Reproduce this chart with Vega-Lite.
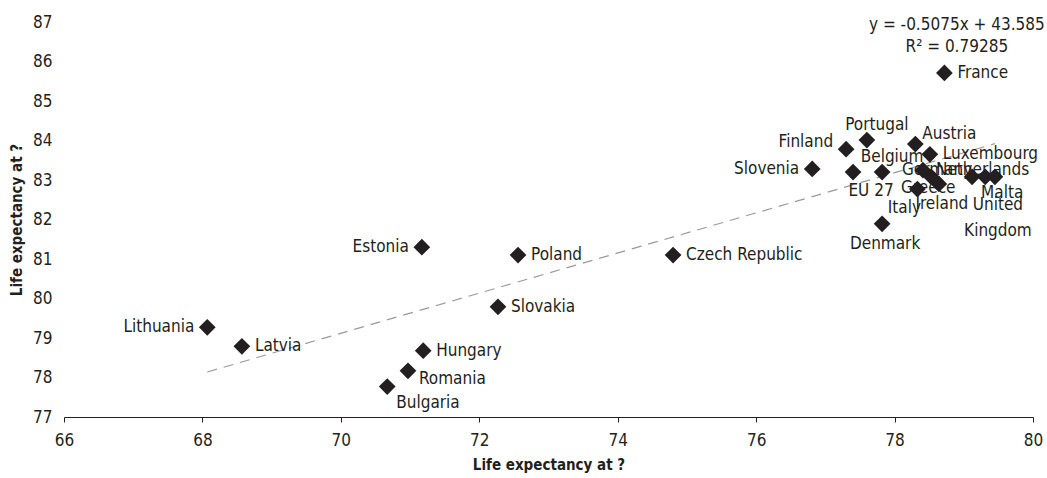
{
  "$schema": "https://vega.github.io/schema/vega-lite/v6.json",
  "width": 969,
  "height": 395,
  "autosize": "none",
  "padding": {"left": 64, "top": 22, "right": 14, "bottom": 61},
  "background": "white",
  "config": {
    "font": "'DejaVu Sans Condensed', 'Liberation Sans', sans-serif",
    "view": {"stroke": null},
    "axis": {"grid": false, "labelFont": "'DejaVu Sans Condensed', 'Liberation Sans', sans-serif", "titleFont": "'DejaVu Sans Condensed', 'Liberation Sans', sans-serif", "labelFontSize": 17, "titleFontSize": 15, "labelColor": "#231f20", "titleColor": "#231f20", "titleFontWeight": "bold", "labelFlush": false},
    "text": {"font": "'DejaVu Sans Condensed', 'Liberation Sans', sans-serif", "fontSize": 17, "color": "#231f20"}
  },
  "datasets": {
    "pts": [
      {"country": "Lithuania", "x": 68.07, "y": 79.27},
      {"country": "Latvia", "x": 68.57, "y": 78.79},
      {"country": "Estonia", "x": 71.17, "y": 81.3},
      {"country": "Poland", "x": 72.56, "y": 81.1},
      {"country": "Slovakia", "x": 72.27, "y": 79.79},
      {"country": "Czech Republic", "x": 74.8, "y": 81.1},
      {"country": "Hungary", "x": 71.19, "y": 78.68},
      {"country": "Romania", "x": 70.97, "y": 78.17},
      {"country": "Bulgaria", "x": 70.67, "y": 77.77},
      {"country": "Slovenia", "x": 76.81, "y": 83.28},
      {"country": "Finland", "x": 77.3, "y": 83.78},
      {"country": "Portugal", "x": 77.6, "y": 84.01},
      {"country": "EU 27", "x": 77.4, "y": 83.2},
      {"country": "Belgium", "x": 77.82, "y": 83.2},
      {"country": "Denmark", "x": 77.82, "y": 81.89},
      {"country": "Austria", "x": 78.3, "y": 83.91},
      {"country": "Luxembourg", "x": 78.51, "y": 83.65},
      {"country": "France", "x": 78.72, "y": 85.71},
      {"country": "Netherlands", "x": 78.41, "y": 83.25},
      {"country": "Greece", "x": 78.53, "y": 83.08},
      {"country": "Ireland", "x": 78.64, "y": 82.9},
      {"country": "Italy", "x": 78.33, "y": 82.77},
      {"country": "Malta", "x": 79.12, "y": 83.08},
      {"country": "Germany", "x": 79.31, "y": 83.08},
      {"country": "United Kingdom", "x": 79.45, "y": 83.08}
    ]
  },
  "encoding": {
    "x": {"field": "x", "type": "quantitative", "scale": {"domain": [66, 80], "nice": false, "zero": false}, "axis": {"title": "Life expectancy at ?", "values": [66, 68, 70, 72, 74, 76, 78, 80], "format": "d", "labelOverlap": false, "domainColor": "#231f20", "domainWidth": 1, "tickColor": "#231f20", "tickSize": 5, "labelPadding": 10, "titlePadding": 9}},
    "y": {"field": "y", "type": "quantitative", "scale": {"domain": [77, 87], "nice": false, "zero": false}, "axis": {"title": "Life expectancy at ?", "values": [77, 78, 79, 80, 81, 82, 83, 84, 85, 86, 87], "tickCount": 11, "format": "d", "labelOverlap": false, "labelBound": false, "labelSeparation": 0, "domain": false, "ticks": false, "labelPadding": 12, "titlePadding": 8}}
  },
  "layer": [
    {
      "data": {"values": [{"x": 68.07, "y": 78.14}, {"x": 79.45, "y": 83.92}]},
      "mark": {"type": "line", "color": "#9a9a9a", "strokeWidth": 1.2, "strokeDash": [10, 7]}
    },
    {
      "data": {"name": "pts"},
      "transform": [{"filter": {"field": "country", "oneOf": ["France", "Luxembourg", "Poland", "Slovakia", "Czech Republic", "Latvia", "Hungary", "Netherlands"]}}],
      "mark": {"type": "text", "align": "left", "baseline": "middle", "dx": 13, "dy": 0},
      "encoding": {"text": {"field": "country"}}
    },
    {
      "data": {"name": "pts"},
      "transform": [{"filter": {"field": "country", "oneOf": ["Austria"]}}],
      "mark": {"type": "text", "align": "left", "baseline": "middle", "dx": 7, "dy": -10},
      "encoding": {"text": {"field": "country"}}
    },
    {
      "data": {"name": "pts"},
      "transform": [{"filter": {"field": "country", "oneOf": ["Romania"]}}],
      "mark": {"type": "text", "align": "left", "baseline": "middle", "dx": 11, "dy": 8},
      "encoding": {"text": {"field": "country"}}
    },
    {
      "data": {"name": "pts"},
      "transform": [{"filter": {"field": "country", "oneOf": ["Bulgaria", "Malta"]}}],
      "mark": {"type": "text", "align": "left", "baseline": "middle", "dx": 9, "dy": 16},
      "encoding": {"text": {"field": "country"}}
    },
    {
      "data": {"name": "pts"},
      "transform": [{"filter": {"field": "country", "oneOf": ["Slovenia", "Estonia", "Lithuania"]}}],
      "mark": {"type": "text", "align": "right", "baseline": "middle", "dx": -13, "dy": 0},
      "encoding": {"text": {"field": "country"}}
    },
    {
      "data": {"name": "pts"},
      "transform": [{"filter": {"field": "country", "oneOf": ["Finland", "Germany"]}}],
      "mark": {"type": "text", "align": "right", "baseline": "middle", "dx": -13, "dy": -7},
      "encoding": {"text": {"field": "country"}}
    },
    {
      "data": {"name": "pts"},
      "transform": [{"filter": {"field": "country", "oneOf": ["Portugal", "Belgium"]}}],
      "mark": {"type": "text", "align": "center", "baseline": "middle", "dx": 10, "dy": -15},
      "encoding": {"text": {"field": "country"}}
    },
    {
      "data": {"name": "pts"},
      "transform": [{"filter": {"field": "country", "oneOf": ["Denmark", "Ireland"]}}],
      "mark": {"type": "text", "align": "center", "baseline": "middle", "dx": 3, "dy": 20},
      "encoding": {"text": {"field": "country"}}
    },
    {
      "data": {"name": "pts"},
      "transform": [{"filter": {"field": "country", "oneOf": ["EU 27"]}}],
      "mark": {"type": "text", "align": "center", "baseline": "middle", "dx": 18, "dy": 19},
      "encoding": {"text": {"field": "country"}}
    },
    {
      "data": {"name": "pts"},
      "transform": [{"filter": {"field": "country", "oneOf": ["Greece"]}}],
      "mark": {"type": "text", "align": "center", "baseline": "middle", "dx": -3, "dy": 11},
      "encoding": {"text": {"field": "country"}}
    },
    {
      "data": {"name": "pts"},
      "transform": [{"filter": {"field": "country", "oneOf": ["Italy"]}}],
      "mark": {"type": "text", "align": "center", "baseline": "middle", "dx": -13, "dy": 19},
      "encoding": {"text": {"field": "country"}}
    },
    {
      "data": {"name": "pts"},
      "transform": [{"filter": {"field": "country", "oneOf": ["United Kingdom"]}}],
      "mark": {"type": "text", "align": "center", "baseline": "top", "lineBreak": " ", "lineHeight": 26, "dx": 3, "dy": 20},
      "encoding": {"text": {"field": "country"}}
    },
    {
      "data": {"name": "pts"},
      "mark": {"type": "point", "shape": "diamond", "filled": true, "size": 280, "color": "#231f20", "opacity": 1}
    },
    {
      "data": {"values": [{"label": "y = -0.5075x + 43.585", "x": 78.9, "y": 86.92}, {"label": "R² = 0.79285", "x": 78.9, "y": 86.37}]},
      "mark": {"type": "text", "align": "center", "baseline": "middle"},
      "encoding": {"text": {"field": "label"}}
    }
  ]
}
